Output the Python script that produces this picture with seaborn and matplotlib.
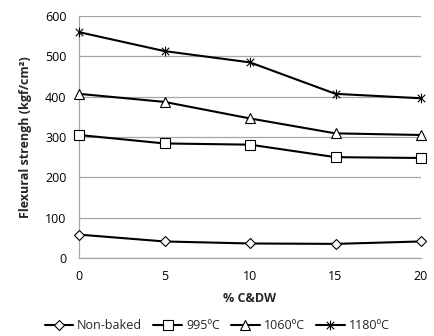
import numpy as np
import matplotlib
matplotlib.use('Agg')
import matplotlib.pyplot as plt
import seaborn as sns
from matplotlib.path import Path

# data
pct_cdw = [0, 5, 10, 15, 20]
non_baked = [58, 41, 36, 35, 41]
t995 = [305, 284, 281, 250, 248]
t1060 = [407, 387, 346, 309, 305]
t1180 = [560, 513, 485, 407, 396]
series_names = ['Non-baked', '995ºC', '1060ºC', '1180ºC']

sns.set_style('white')
plt.rcParams['font.family'] = ['Open Sans', 'DejaVu Sans']

# asterisk marker: x plus vertical bar
star = Path([(-1, -1), (1, 1), (-1, 1), (1, -1), (0, -1.3), (0, 1.3)],
            [Path.MOVETO, Path.LINETO, Path.MOVETO, Path.LINETO, Path.MOVETO, Path.LINETO])

fig = plt.figure(figsize=(4.34, 3.36), dpi=100)
ax = fig.add_axes([79 / 434, 1 - 258 / 336, (421 - 79) / 434, (258 - 16) / 336])

styles = [('D', 5, 'white'), ('s', 6.5, 'white'), ('^', 7, 'white'), (star, 7, 'none')]
for vals, name, (mk, ms, fc) in zip([non_baked, t995, t1060, t1180], series_names, styles):
    sns.lineplot(x=pct_cdw, y=vals, ax=ax, color='black', lw=1.5, marker=mk,
                 markersize=ms, markerfacecolor=fc, markeredgecolor='black',
                 markeredgewidth=0.8, label=name, clip_on=False, zorder=3)

ax.set_xlim(0, 20)
ax.set_ylim(0, 600)
ax.set_xticks([0, 5, 10, 15, 20])
ax.set_yticks(range(0, 601, 100))
ax.grid(True, axis='y', color='#a6a6a6', lw=0.9)
ax.set_axisbelow(True)
for s in ['top', 'right']:
    ax.spines[s].set_visible(False)
for s in ['left', 'bottom']:
    ax.spines[s].set_color('#a6a6a6')
    ax.spines[s].set_linewidth(0.9)
ax.tick_params(axis='both', labelsize=9, length=4, color='#a6a6a6', direction='out',
               pad=5, labelcolor='black')

ax.set_xlabel('% C&DW', fontsize=9, fontweight='bold', labelpad=6)
ax.set_ylabel('Flexural strengh (kgf/cm²)', fontsize=9, fontweight='bold', labelpad=9)

ax.legend(loc='center', bbox_to_anchor=(0.5, 0.03), bbox_transform=fig.transFigure,
          ncol=4, frameon=False, fontsize=9, handlelength=2.3, handletextpad=0.3,
          columnspacing=0.9, borderaxespad=0)

fig.savefig('out.png', dpi=100)
